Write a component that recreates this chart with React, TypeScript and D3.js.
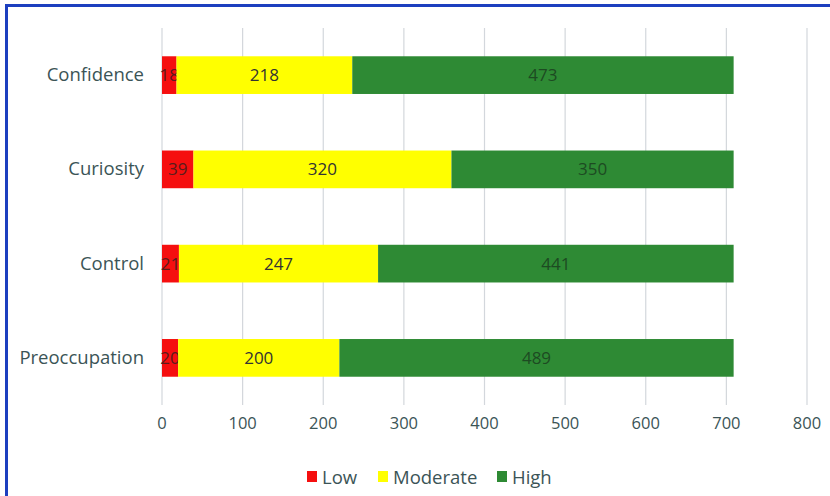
import { useEffect, useRef } from 'react';
import * as d3 from 'd3';

const categories = ['Confidence', 'Curiosity', 'Control', 'Preoccupation'];
const lowValues = [18, 39, 21, 20];
const moderateValues = [218, 320, 247, 200];
const highValues = [473, 350, 441, 489];
const seriesNames = ['Low', 'Moderate', 'High'];
const xTicks = [0, 100, 200, 300, 400, 500, 600, 700, 800];

const colors: Record<string, string> = { Low: '#f50f0f', Moderate: '#ffff00', High: '#2e8a34' };
const labelColors: Record<string, string> = { Low: '#5a1c1c', Moderate: '#333333', High: '#1d4a22' };

export default function App() {
  const svgRef = useRef<SVGSVGElement>(null);
  const width = 830;
  const height = 496;

  useEffect(() => {
    if (!svgRef.current) return;
    const svg = d3.select(svgRef.current);
    svg.selectAll('*').remove();

    const font = "'Open Sans', sans-serif";
    const textColor = '#3b5456';

    // outer blue frame
    svg.append('rect')
      .attr('x', 6.5)
      .attr('y', 5.5)
      .attr('width', 840)
      .attr('height', 510)
      .attr('fill', 'white')
      .attr('stroke', '#1d3fbf')
      .attr('stroke-width', 3);

    const xScale = d3.scaleLinear().domain([0, 800]).range([162, 807]);
    const yScale = d3.scaleBand<string>()
      .domain(categories)
      .range([28, 405])
      .paddingInner(0.6)
      .paddingOuter(0.3);

    // gridlines
    svg.append('g')
      .selectAll('line')
      .data(xTicks)
      .join('line')
      .attr('x1', (d) => xScale(d))
      .attr('x2', (d) => xScale(d))
      .attr('y1', 28)
      .attr('y2', 405)
      .attr('stroke', '#d3d7dc')
      .attr('stroke-width', 1.2);

    // tick labels
    svg.append('g')
      .selectAll('text')
      .data(xTicks)
      .join('text')
      .attr('x', (d) => xScale(d))
      .attr('y', 429)
      .attr('text-anchor', 'middle')
      .attr('font-family', font)
      .attr('font-size', 16.5)
      .attr('fill', textColor)
      .text((d) => d);

    // category labels
    svg.append('g')
      .selectAll('text')
      .data(categories)
      .join('text')
      .attr('x', 144)
      .attr('y', (d) => (yScale(d) as number) + yScale.bandwidth() / 2 + 6)
      .attr('text-anchor', 'end')
      .attr('font-family', font)
      .attr('font-size', 18.5)
      .attr('fill', textColor)
      .text((d) => d);

    const table = categories.map((c, i) => ({
      category: c,
      Low: lowValues[i],
      Moderate: moderateValues[i],
      High: highValues[i],
    }));
    const stacked = d3.stack<any>().keys(seriesNames)(table);

    stacked.forEach((layer) => {
      const key = layer.key;
      const g = svg.append('g');
      g.selectAll('rect')
        .data(layer)
        .join('rect')
        .attr('x', (d) => xScale(d[0]))
        .attr('y', (d) => yScale(d.data.category) as number)
        .attr('width', (d) => xScale(d[1]) - xScale(d[0]))
        .attr('height', yScale.bandwidth())
        .attr('fill', colors[key]);
      g.selectAll('text')
        .data(layer)
        .join('text')
        .attr('x', (d) => (xScale(d[0]) + xScale(d[1])) / 2)
        .attr('y', (d) => (yScale(d.data.category) as number) + yScale.bandwidth() / 2 + 6)
        .attr('text-anchor', 'middle')
        .attr('font-family', font)
        .attr('font-size', 17)
        .attr('fill', labelColors[key])
        .text((d) => d[1] - d[0]);
    });

    // legend
    const legendItems = [
      { label: 'Low', x: 307 },
      { label: 'Moderate', x: 378 },
      { label: 'High', x: 497 },
    ];
    legendItems.forEach((item) => {
      svg.append('rect')
        .attr('x', item.x)
        .attr('y', 471)
        .attr('width', 10)
        .attr('height', 11)
        .attr('fill', colors[item.label]);
      svg.append('text')
        .attr('x', item.x + 15)
        .attr('y', 484)
        .attr('font-family', font)
        .attr('font-size', 18.5)
        .attr('fill', textColor)
        .text(item.label);
    });
  }, []);

  return (
    <svg
      ref={svgRef}
      width={width}
      height={height}
      style={{ position: 'absolute', left: 0, top: 0, display: 'block' }}
    />
  );
}
